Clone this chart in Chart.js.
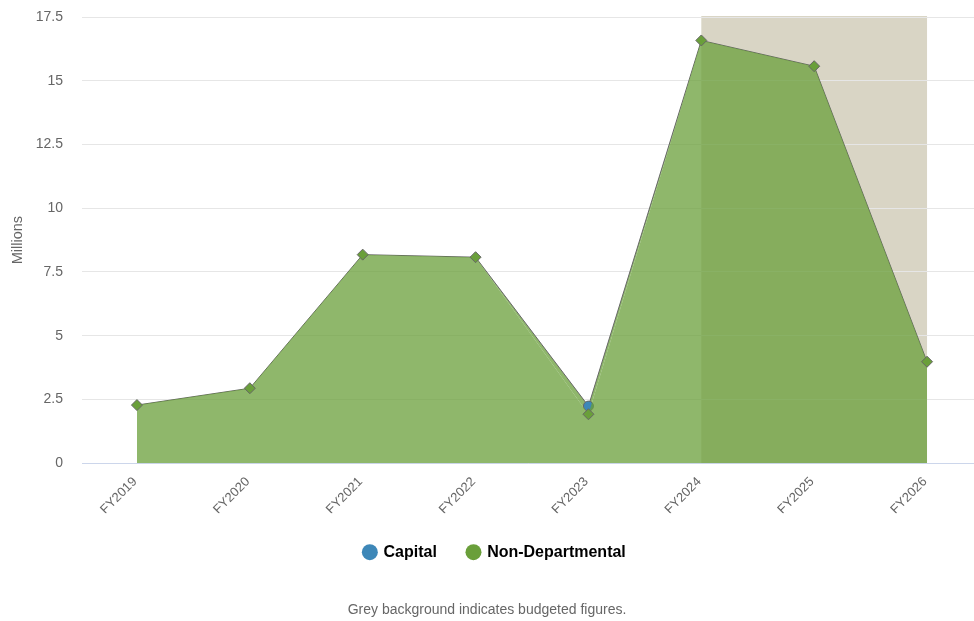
<!DOCTYPE html>
<html>
<head>
<meta charset="utf-8">
<script src="https://cdn.jsdelivr.net/npm/chart.js@4/dist/chart.umd.min.js"></script>
<style>
html,body{margin:0;padding:0;background:#fff;}
#wrap{width:974px;height:621px;position:relative;}
</style>
</head>
<body>
<div id="wrap"><canvas id="c" width="974" height="621"></canvas></div>
<script>
const categories = ['FY2019','FY2020','FY2021','FY2022','FY2023','FY2024','FY2025','FY2026'];
const nonDepartmental = [2.28, 2.94, 8.18, 8.08, 1.92, 16.58, 15.57, 3.98];
const capital = [0, 0, 0, 0, 0.32, 0, 0, 0];
const yTicks = [0, 2.5, 5, 7.5, 10, 12.5, 15, 17.5];
const budgetFrom = 'FY2024';
const budgetTo = 'FY2026';

const GREEN = 'rgb(106,159,58)';
const GREEN_FILL = 'rgba(106,159,58,0.75)';
const BLUE = 'rgb(61,135,184)';
const FONT = 'Liberation Sans, Arial, sans-serif';

const toXY = arr => arr.map((v, i) => ({x: i, y: v}));

const bandPlugin = {
  id: 'band',
  beforeDraw(chart) {
    const {ctx, chartArea, scales} = chart;
    const x0 = scales.x.getPixelForValue(categories.indexOf(budgetFrom));
    const x1 = scales.x.getPixelForValue(categories.indexOf(budgetTo));
    ctx.save();
    ctx.fillStyle = 'rgb(217,213,197)';
    ctx.fillRect(x0, chartArea.top - 1, x1 - x0, chartArea.bottom - chartArea.top + 1);
    ctx.restore();
  }
};

const legendShift = {
  id: 'legendShift',
  afterLayout(chart) {
    if (chart.legend) { chart.legend.left += 8; chart.legend.right += 8; }
  }
};

new Chart(document.getElementById('c'), {
  type: 'line',
  data: {
    datasets: [
      {
        label: 'Non-Departmental',
        data: toXY(nonDepartmental),
        borderColor: 'transparent',
        borderWidth: 1,
        backgroundColor: GREEN_FILL,
        fill: 'origin',
        pointStyle: 'rectRot',
        pointRadius: 5.5,
        pointBackgroundColor: GREEN,
        pointBorderColor: '#666',
        pointBorderWidth: 1,
        tension: 0,
        clip: false
      },
      {
        label: 'Capital',
        data: toXY(capital),
        borderColor: '#666',
        borderWidth: 1,
        backgroundColor: GREEN_FILL,
        fill: '-1',
        pointStyle: 'circle',
        pointRadius: capital.map(v => v > 0 ? 5 : 0),
        pointBackgroundColor: BLUE,
        pointBorderColor: '#666',
        pointBorderWidth: 1,
        tension: 0,
        clip: false
      }
    ]
  },
  options: {
    responsive: false,
    animation: false,
    events: [],
    layout: {autoPadding: false, padding: {left: 0, right: 0, top: 0, bottom: 2}},
    scales: {
      x: {
        type: 'linear',
        min: -0.487,
        max: 7.416,
        afterBuildTicks(scale) { scale.ticks = categories.map((c, i) => ({value: i})); },
        afterFit(scale) { scale.height = 50; scale.paddingRight = 0; scale.paddingLeft = 0; },
        grid: {display: false, drawTicks: false},
        border: {display: true, color: '#ccd6eb', width: 1},
        ticks: {
          autoSkip: false,
          minRotation: 45,
          maxRotation: 45,
          padding: 11,
          labelOffset: -2,
          color: '#666',
          font: {family: FONT, size: 13},
          callback: v => categories[v]
        }
      },
      y: {
        stacked: true,
        min: 0,
        max: 17.5,
        afterBuildTicks(scale) { scale.ticks = yTicks.map(v => ({value: v})); },
        afterFit(scale) { scale.width = 82; scale.paddingTop = 17; scale.paddingBottom = 0; },
        grid: {color: '#e6e6e6', drawTicks: false},
        border: {display: false},
        ticks: {
          padding: 19,
          color: '#666',
          font: {family: FONT, size: 14},
          callback: v => String(v)
        },
        title: {
          display: true,
          text: 'Millions',
          color: '#666',
          padding: {top: 9, bottom: 0},
          font: {family: FONT, size: 14.5}
        }
      }
    },
    plugins: {
      tooltip: {enabled: false},
      legend: {
        position: 'bottom',
        labels: {
          usePointStyle: true,
          boxWidth: 11.3,
          boxHeight: 11.3,
          padding: 31,
          color: '#333',
          font: {family: FONT, size: 16, weight: 'bold'},
          generateLabels() {
            return [
              {text: 'Capital', fillStyle: BLUE, strokeStyle: BLUE, lineWidth: 0, pointStyle: 'circle', datasetIndex: 1},
              {text: 'Non-Departmental', fillStyle: GREEN, strokeStyle: GREEN, lineWidth: 0, pointStyle: 'circle', datasetIndex: 0}
            ];
          }
        }
      },
      title: {
        display: true,
        position: 'bottom',
        text: 'Grey background indicates budgeted figures.',
        color: '#666',
        padding: {top: 32, bottom: 0},
        font: {family: FONT, size: 14, weight: 'normal'}
      }
    }
  },
  plugins: [bandPlugin, legendShift]
});
</script>
</body>
</html>
